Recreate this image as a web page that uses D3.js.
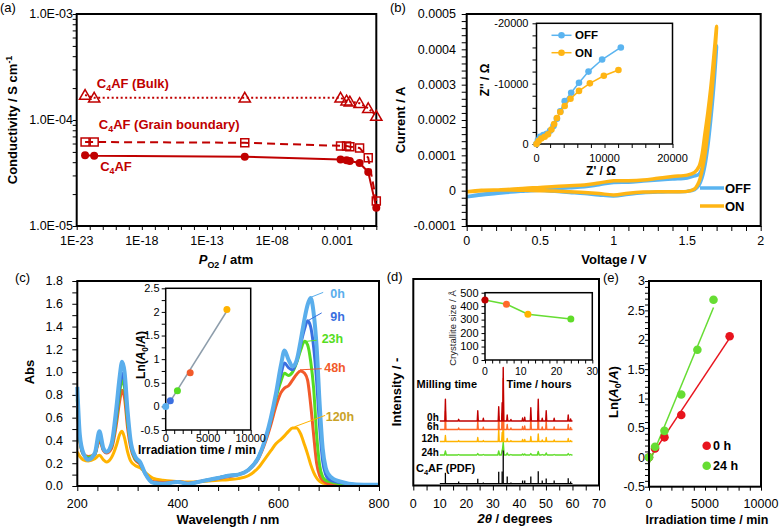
<!DOCTYPE html>
<html><head><meta charset="utf-8">
<script src="https://cdn.jsdelivr.net/npm/d3@7/dist/d3.min.js"></script>
<style>html,body{margin:0;padding:0;background:#fff;}svg{display:block;}</style>
</head><body>
<svg id="chart" width="781" height="528" font-family='"Liberation Sans", Arial, Helvetica, sans-serif'></svg>
<script>
// ===================== DATA =====================
// (a) conductivity vs PO2
const po2 = [4.4e-23, 2.2e-22, 8e-11, 1.8e-3, 5.2e-3, 9.3e-3, 5.2e-2, 0.24, 1.0];
const condBulk  = [1.72e-4, 1.62e-4, 1.62e-4, 1.62e-4, 1.52e-4, 1.49e-4, 1.44e-4, 1.29e-4, 1.09e-4];
const condGB    = [6.2e-5, 6.2e-5, 6.1e-5, 5.7e-5, 5.7e-5, 5.6e-5, 5.45e-5, 4.4e-5, 1.72e-5];
const condTotal = [4.66e-5, 4.6e-5, 4.5e-5, 4.24e-5, 4.17e-5, 4.1e-5, 3.93e-5, 3.23e-5, 1.49e-5];
const aXTicks = [1e-23, 1e-18, 1e-13, 1e-8, 1e-3];
const aXTickLabels = ['1E-23', '1E-18', '1E-13', '1E-08', '0.001'];
const aYTicks = [1e-5, 1e-4, 1e-3];
const aYTickLabels = ['1.0E-05', '1.0E-04', '1.0E-03'];
const aLabelNames = ['(Bulk)', '(Grain boundary)', ''];
const aLabelP = [3.5e-22, 5e-22, 6.3e-22];
const aLabelC = [2.02e-4, 8.3e-5, 3.33e-5];

// (b) cyclic voltammetry (current in µA) and impedance inset
const cvVolt   = [0, 0.1, 0.2, 0.3, 0.4, 0.5, 0.6, 0.7, 0.8, 0.9, 1.0, 1.1, 1.2, 1.3, 1.4, 1.5, 1.55, 1.58, 1.6, 1.62, 1.64, 1.66, 1.68, 1.7];
const cvOnFwd  = [-3, 0, 2, 4, 7, 9, 12, 14, 16, 22, 28, 28, 30, 35, 40, 44, 52, 68, 100, 160, 220, 290, 375, 465];
const cvOnRev  = [-3, 1, 2, 2, 1, 0, -1, -3, -5, -8, -12, -7, -4, -3, -3, -2, 5, 25, 55, 100, 165, 245, 340, 465];
const cvOffFwd = [-17, -12, -8, -4, -1, 2, 5, 8, 11, 17, 23, 24, 27, 30, 33, 36, 42, 46, 62, 100, 155, 230, 315, 410];
const cvOffRev = [-17, -10, -6, -3, -1, 1, -2, -5, -8, -12, -15, -10, -6, -4, -3, -2, 3, 15, 35, 70, 125, 200, 290, 410];
const bXTicks = [0, 0.5, 1, 1.5, 2];
const bYTicks = [-0.0001, 0, 0.0001, 0.0002, 0.0003, 0.0004, 0.0005];
const zReOff = [0, 200, 500, 1000, 1500, 2000, 2500, 3000, 3500, 4150, 5100, 6250, 7650, 9650, 12400];
const zImOff = [0, -600, -1200, -1500, -1700, -2200, -3000, -4200, -5400, -7100, -8500, -10150, -12000, -14000, -16000];
const zReOn  = [0, 300, 700, 1200, 1700, 2200, 2600, 3000, 3500, 4150, 5000, 6250, 7850, 9900, 12050];
const zImOn  = [0, -500, -900, -1200, -1600, -2400, -3300, -4300, -5300, -6300, -7500, -8800, -10050, -11300, -12250];

// (c) UV-vis spectra
const wl = [200, 205, 212, 222, 235, 244, 252, 258, 268, 278, 284, 289, 294, 300, 306, 315, 325, 335, 350, 370,
            400, 420, 450, 480, 500, 520, 540, 560, 575, 585, 595, 605, 612, 620, 628, 636, 644, 652, 658, 664,
            670, 676, 682, 688, 694, 700, 710, 722, 740, 770, 800];
const abs0h = [0.87, 0.45, 0.29, 0.23, 0.29, 0.48, 0.33, 0.30, 0.37, 0.70, 0.95, 1.09, 1.00, 0.66, 0.40, 0.26, 0.21, 0.11, 0.03, 0.02,
               0.035, 0.02, 0.045, 0.07, 0.09, 0.10, 0.14, 0.25, 0.43, 0.60, 0.81, 1.06, 1.19, 1.11, 1.05, 1.10, 1.27, 1.47, 1.59, 1.65,
               1.52, 1.22, 0.72, 0.33, 0.16, 0.10, 0.06, 0.04, 0.02, 0.01, 0.01];
const abs9h = [0.82, 0.42, 0.28, 0.24, 0.28, 0.45, 0.32, 0.30, 0.36, 0.63, 0.86, 0.99, 0.91, 0.61, 0.38, 0.25, 0.20, 0.11, 0.03, 0.02,
               0.035, 0.02, 0.045, 0.07, 0.09, 0.10, 0.14, 0.25, 0.42, 0.58, 0.79, 0.98, 1.08, 1.04, 1.02, 1.09, 1.24, 1.38, 1.45, 1.40,
               1.22, 0.92, 0.52, 0.22, 0.10, 0.06, 0.04, 0.03, 0.02, 0.01, 0.01];
const abs23h = [0.76, 0.41, 0.28, 0.25, 0.28, 0.43, 0.32, 0.30, 0.35, 0.60, 0.81, 0.93, 0.86, 0.57, 0.37, 0.24, 0.20, 0.11, 0.03, 0.02,
                0.035, 0.02, 0.045, 0.07, 0.09, 0.10, 0.14, 0.25, 0.42, 0.58, 0.77, 0.92, 0.99, 0.97, 1.00, 1.08, 1.19, 1.27, 1.24, 1.10,
                0.86, 0.45, 0.18, 0.08, 0.05, 0.04, 0.03, 0.02, 0.01, 0.01, 0.01];
const abs48h = [0.70, 0.40, 0.28, 0.26, 0.28, 0.40, 0.31, 0.29, 0.33, 0.55, 0.74, 0.84, 0.77, 0.51, 0.34, 0.23, 0.19, 0.11, 0.04, 0.03,
                0.04, 0.025, 0.045, 0.065, 0.08, 0.10, 0.14, 0.24, 0.40, 0.54, 0.70, 0.82, 0.86, 0.88, 0.93, 0.98, 1.01, 0.99, 0.93, 0.72,
                0.45, 0.20, 0.09, 0.05, 0.03, 0.02, 0.015, 0.01, 0.01, 0.005, 0.005];
const abs120h = [0.30, 0.26, 0.23, 0.22, 0.24, 0.27, 0.23, 0.21, 0.25, 0.36, 0.45, 0.48, 0.42, 0.30, 0.22, 0.18, 0.16, 0.12, 0.07, 0.05,
                 0.04, 0.035, 0.04, 0.05, 0.055, 0.065, 0.09, 0.16, 0.25, 0.31, 0.37, 0.41, 0.44, 0.48, 0.51, 0.51, 0.46, 0.36, 0.28, 0.19,
                 0.12, 0.07, 0.04, 0.025, 0.02, 0.015, 0.01, 0.01, 0.005, 0.005, 0.005];
const cNames = ['0h', '9h', '23h', '48h', '120h'];
const cColors = ['#5aaeec', '#3a6fe0', '#55dd22', '#f25a2a', '#ffb300'];
const cTextColors = ['#5aaeec', '#3a6fe0', '#55dd22', '#f25a2a', '#c9a227'];
const cLeadX0 = [666, 658, 655, 643, 632], cLeadY0 = [1.66, 1.45, 1.27, 1.02, 0.52];
const cLeadX1 = [689, 686, 676, 686, 693], cLeadY1 = [1.70, 1.52, 1.28, 1.03, 0.62];
const cLabX = [703, 703, 686, 691, 694], cLabY = [1.65, 1.45, 1.26, 1.00, 0.57];
const cXTicks = [200, 400, 600, 800];
const cYTicks = [0, 0.2, 0.4, 0.6, 0.8, 1.0, 1.2, 1.4, 1.6, 1.8];
// (c) inset: kinetics
const irrTime = [0, 540, 1380, 2880, 7200];
const lnRatio = [0, 0.12, 0.33, 0.71, 2.05];

// (d) XRD
const xrdPos = [12.1, 17.1, 24.3, 26.4, 32.2, 33.5, 33.9, 35.4, 36.8, 41.2, 42.0, 44.3, 47.1, 48.6, 50.1, 53.1, 58.4, 59.3];
const xrd0h  = [21.7, 1.7, 10.3, 2.7, 14.3, 18.3, 53.5, 6, 1.5, 3, 3.7, 13.3, 21.7, 2.7, 10.3, 2.7, 6, 2];
const xrd6h  = [18, 1.5, 8.5, 2.2, 13, 16, 51, 5, 1.5, 3, 3.5, 11.5, 18.5, 2.5, 8.5, 2.5, 5, 2];
const xrd12h = [6, 1, 4, 1, 12.5, 9, 30, 3, 1, 2, 2, 5, 7.5, 1.5, 4, 1.5, 3, 1];
const xrd24h = [4, 0.5, 1.5, 0.5, 4, 5, 13, 2, 0.5, 1, 1, 1.5, 3.5, 0.5, 2, 0.5, 1.5, 0.5];
const xrdPDF = [10.7, 2, 4.7, 1, 11.7, 12, 33, 7, 1, 3, 3, 7, 12.3, 3, 5, 3, 5.3, 2];
const xrdNames = ['0h', '6h', '12h', '24h'];
const xrdColors = ['#c00000', '#ff6a2a', '#ffb300', '#5fdc28'];
const xrdOffsets = [64.5, 56, 44, 30.5];
const dXTicks = [0, 10, 20, 30, 40, 50, 60, 70];
// (d) inset: crystallite size
const millHours = [0, 6, 12, 24];
const crystSize = [445, 415, 340, 305];

// (e) kinetics for two milling times
const eTime0h = [0, 540, 1380, 2880, 7200];
const eLn0h = [0, 0.15, 0.34, 0.72, 2.06];
const eTime24h = [0, 540, 1380, 2880, 4320, 5760];
const eLn24h = [0, 0.18, 0.45, 1.07, 1.83, 2.68];
const eYTicks = [-0.5, 0, 0.5, 1, 1.5, 2, 2.5, 3];
const eXTicks = [0, 5000, 10000];

// ===================== HELPERS =====================
const svg = d3.select('#chart');
const FS = 12.5, FSI = 11;

function frame(g, xs, ys, lw) {
  const [x0, x1] = xs.range(), [y0, y1] = ys.range();
  g.append('rect').attr('x', Math.min(x0, x1)).attr('y', Math.min(y0, y1))
    .attr('width', Math.abs(x1 - x0)).attr('height', Math.abs(y1 - y0))
    .attr('fill', 'none').attr('stroke', '#000').attr('stroke-width', lw);
}
function tickMarks(g, scale, side, vals, len, lw, pos) {
  const ax = (side === 'left' ? d3.axisLeft : d3.axisBottom)(scale).tickValues(vals).tickSize(len).tickFormat('');
  const t = g.append('g').attr('transform', side === 'left' ? `translate(${pos},0)` : `translate(0,${pos})`).call(ax);
  t.select('.domain').remove();
  t.selectAll('line').attr('stroke', '#000').attr('stroke-width', lw);
}
function tickLabels(g, scale, side, vals, pos, fmt, fs) {
  g.append('g').selectAll('text').data(vals).join('text')
    .attr(side === 'left' ? 'y' : 'x', d => scale(d))
    .attr(side === 'left' ? 'x' : 'y', pos)
    .attr('dy', side === 'left' ? '0.35em' : null)
    .attr('text-anchor', side === 'left' ? 'end' : 'middle')
    .attr('font-size', fs).attr('fill', '#000')
    .text((d, i) => fmt(d, i));
}
function rich(g, x, y, parts, opt) {
  const fs = opt.fs;
  const t = g.append('text').attr('x', x).attr('y', y).attr('font-size', fs)
    .attr('font-weight', opt.bold ? 'bold' : 'normal').attr('fill', opt.fill || '#000')
    .attr('text-anchor', opt.anchor || 'start');
  if (opt.rot) t.attr('transform', `rotate(-90,${x},${y})`);
  let shift = 0;
  parts.forEach(p => {
    if (typeof p === 'string') p = { t: p };
    const target = p.sub ? fs * 0.28 : p.sup ? -fs * 0.38 : 0;
    const s = t.append('tspan').attr('dy', target - shift).text(p.t);
    shift = target;
    if (p.sub || p.sup) s.attr('font-size', fs * 0.68);
    if (p.it) s.attr('font-style', 'italic');
  });
  return t;
}
function linReg(xs, ys) {
  const mx = d3.mean(xs), my = d3.mean(ys);
  let sxy = 0, sxx = 0;
  xs.forEach((x, i) => { sxy += (x - mx) * (ys[i] - my); sxx += (x - mx) * (x - mx); });
  const b = sxy / sxx;
  return [my - b * mx, b];
}
const fmtPlain = d => String(+d.toFixed(6));

// ===================== PANEL (a) =====================
{
  const g = svg.append('g');
  const x = d3.scaleLog().domain([1e-23, 1]).range([76.7, 376.3]);
  const y = d3.scaleLog().domain([1e-5, 1e-3]).range([226, 14]);
  const red = '#c00000';
  const decX = d3.range(-23, 1).map(e => Math.pow(10, e));
  tickMarks(g, x, 'bottom', decX, 4, 1, 226);
  const minorY = [];
  [-5, -4].forEach(e => { for (let k = 1; k <= 9; k++) minorY.push(k * Math.pow(10, e)); });
  minorY.push(1e-3);
  tickMarks(g, y, 'left', minorY, 4, 1, 76.7);
  frame(g, x, y, 2);
  tickLabels(g, x, 'bottom', aXTicks, 245, (d, i) => aXTickLabels[i], FS);
  tickLabels(g, y, 'left', aYTicks, 73, (d, i) => aYTickLabels[i], FS);

  const mk = arr => d3.line().x((d, i) => x(po2[i])).y(d => y(d))(arr);
  g.append('path').attr('d', mk(condBulk)).attr('fill', 'none').attr('stroke', red).attr('stroke-width', 2).attr('stroke-dasharray', '2,2.5');
  g.append('path').attr('d', mk(condGB)).attr('fill', 'none').attr('stroke', red).attr('stroke-width', 2).attr('stroke-dasharray', '8,5');
  g.append('path').attr('d', mk(condTotal)).attr('fill', 'none').attr('stroke', red).attr('stroke-width', 2);
  g.append('g').selectAll('path').data(condBulk).join('path')
    .attr('transform', (d, i) => `translate(${x(po2[i])},${y(d) + 1})`)
    .attr('d', d3.symbol(d3.symbolTriangle, 55)()).attr('fill', 'none').attr('stroke', red).attr('stroke-width', 1.5);
  g.append('g').selectAll('path').data(condGB).join('path')
    .attr('transform', (d, i) => `translate(${x(po2[i])},${y(d)})`)
    .attr('d', d3.symbol(d3.symbolSquare, 64)()).attr('fill', 'none').attr('stroke', red).attr('stroke-width', 1.5);
  g.append('g').selectAll('circle').data(condTotal).join('circle')
    .attr('cx', (d, i) => x(po2[i])).attr('cy', d => y(d)).attr('r', 4).attr('fill', red);
  aLabelNames.forEach((nm, i) => {
    const parts = ['C', { t: '4', sub: true }, 'AF'];
    if (nm) parts.push(' ' + nm);
    rich(g, x(aLabelP[i]), y(aLabelC[i]), parts, { fs: 13, bold: true, fill: red });
  });
  rich(g, 16.5, 120, ['Conductivity / S cm', { t: '-1', sup: true }], { fs: 13, bold: true, rot: true, anchor: 'middle' });
  rich(g, 226, 264, [{ t: 'P', it: true }, { t: 'O2', sub: true }, ' / atm'], { fs: 13, bold: true, anchor: 'middle' });
  g.append('text').attr('x', 0).attr('y', 11.5).attr('font-size', 13).text('(a)');
}

// ===================== PANEL (b) =====================
{
  const g = svg.append('g');
  const x = d3.scaleLinear().domain([0, 2]).range([466.7, 760.7]);
  const y = d3.scaleLinear().domain([-0.0001, 0.0005]).range([226, 14]);
  tickMarks(g, x, 'bottom', d3.range(0, 2.001, 0.1), 5, 1, 226);
  tickMarks(g, y, 'left', d3.range(-0.0001, 0.000501, 0.00002), 5, 1, 466.7);
  tickLabels(g, x, 'bottom', bXTicks, 245, d => fmtPlain(d), FS);
  tickLabels(g, y, 'left', bYTicks, 456, d => Math.abs(d) < 1e-12 ? '0' : d.toFixed(4), FS);

  const loop = (fwd, rev) => {
    const pts = cvVolt.map((v, i) => [v, fwd[i]]);
    for (let i = cvVolt.length - 2; i >= 0; i--) pts.push([cvVolt[i], rev[i]]);
    return d3.line().curve(d3.curveCatmullRom.alpha(0.5)).x(d => x(d[0])).y(d => y(d[1] * 1e-6))(pts);
  };
  const blue = '#5ab4f0', orange = '#ffb514';
  g.append('path').attr('d', loop(cvOffFwd, cvOffRev)).attr('fill', 'none').attr('stroke', blue).attr('stroke-width', 3.5);
  g.append('path').attr('d', loop(cvOnFwd, cvOnRev)).attr('fill', 'none').attr('stroke', orange).attr('stroke-width', 3.5);
  frame(g, x, y, 2);
  // legend
  [['OFF', blue, 188], ['ON', orange, 206]].forEach(([t, c, yy]) => {
    g.append('line').attr('x1', 700).attr('x2', 724).attr('y1', yy).attr('y2', yy).attr('stroke', c).attr('stroke-width', 3.5);
    g.append('text').attr('x', 725).attr('y', yy + 4.7).attr('font-size', 13).attr('font-weight', 'bold').text(t);
  });
  rich(g, 404.5, 120, ['Current / A'], { fs: 13, bold: true, rot: true, anchor: 'middle' });
  rich(g, 614, 264, ['Voltage / V'], { fs: 13, bold: true, anchor: 'middle' });
  g.append('text').attr('x', 390).attr('y', 11.5).attr('font-size', 13).text('(b)');

  // inset
  const xi = d3.scaleLinear().domain([0, 20000]).range([536.5, 672.5]);
  const yi = d3.scaleLinear().domain([0, -20000]).range([144, 23.3]);
  g.append('rect').attr('x', 536.5).attr('y', 23.3).attr('width', 136).attr('height', 120.7).attr('fill', '#fff');
  tickMarks(g, xi, 'bottom', d3.range(0, 20001, 2000), 4, 1, 144);
  tickMarks(g, yi, 'left', d3.range(0, -20001, -2000), 4, 1, 536.5);
  frame(g, xi, yi, 1.5);
  tickLabels(g, xi, 'bottom', [0, 10000, 20000], 161.5, d => String(d), FSI);
  tickLabels(g, yi, 'left', [0, -10000, -20000], 528.5, d => String(d), FSI);
  const zl = (re, im) => d3.line().x((d, i) => xi(re[i])).y(d => yi(d))(im);
  [[zReOff, zImOff, blue], [zReOn, zImOn, orange]].forEach(([re, im, c]) => {
    g.append('path').attr('d', zl(re, im)).attr('fill', 'none').attr('stroke', c).attr('stroke-width', 1.5);
    g.append('g').selectAll('circle').data(im).join('circle')
      .attr('cx', (d, i) => xi(re[i])).attr('cy', d => yi(d)).attr('r', 3.3).attr('fill', c);
  });
  [['OFF', blue, 35.3], ['ON', orange, 52.7]].forEach(([t, c, yy]) => {
    g.append('line').attr('x1', 551.5).attr('x2', 571.5).attr('y1', yy).attr('y2', yy).attr('stroke', c).attr('stroke-width', 1.5);
    g.append('circle').attr('cx', 561.5).attr('cy', yy).attr('r', 3.3).attr('fill', c);
    g.append('text').attr('x', 575).attr('y', yy + 4).attr('font-size', 11.5).attr('font-weight', 'bold').text(t);
  });
  rich(g, 488.5, 80, ["Z'' / Ω"], { fs: 12, bold: true, rot: true, anchor: 'middle' });
  rich(g, 601, 174.5, ["Z' / Ω"], { fs: 12, bold: true, anchor: 'middle' });
}

// ===================== PANEL (c) =====================
{
  const g = svg.append('g');
  const x = d3.scaleLinear().domain([200, 800]).range([77.3, 379]);
  const y = d3.scaleLinear().domain([0, 1.8]).range([486, 281]);
  tickMarks(g, x, 'bottom', d3.range(200, 801, 40), 5, 1, 486);
  tickMarks(g, y, 'left', d3.range(0, 1.801, 0.1), 5, 1, 77.3);
  tickLabels(g, x, 'bottom', cXTicks, 508, d => String(d), FS);
  tickLabels(g, y, 'left', cYTicks, 63, d => d.toFixed(1), FS);
  const series = [abs0h, abs9h, abs23h, abs48h, abs120h];
  const line = d3.line().curve(d3.curveMonotoneX).x((d, i) => x(wl[i])).y(d => y(d));
  for (let k = series.length - 1; k >= 0; k--) {
    g.append('path').attr('d', line(series[k])).attr('fill', 'none').attr('stroke', cColors[k])
      .attr('stroke-width', k === 0 ? 4 : 3).attr('stroke-linejoin', 'round');
  }
  frame(g, x, y, 2);
  cNames.forEach((nm, k) => {
    g.append('line').attr('x1', x(cLeadX0[k])).attr('y1', y(cLeadY0[k])).attr('x2', x(cLeadX1[k])).attr('y2', y(cLeadY1[k]))
      .attr('stroke', cColors[k]).attr('stroke-width', 1);
    g.append('text').attr('x', x(cLabX[k])).attr('y', y(cLabY[k])).attr('font-size', 12.5).attr('font-weight', 'bold')
      .attr('fill', cTextColors[k]).text(nm);
  });
  rich(g, 33.5, 372, ['Abs'], { fs: 13, bold: true, rot: true, anchor: 'middle' });
  rich(g, 228, 524, ['Wavelength / nm'], { fs: 13, bold: true, anchor: 'middle' });
  g.append('text').attr('x', 15).attr('y', 282).attr('font-size', 13).text('(c)');

  // inset
  const xi = d3.scaleLinear().domain([0, 10000]).range([165.7, 250.7]);
  const yi = d3.scaleLinear().domain([-0.5, 2.5]).range([430, 288.3]);
  g.append('rect').attr('x', 165.7).attr('y', 288.3).attr('width', 85).attr('height', 141.7).attr('fill', '#fff');
  tickMarks(g, xi, 'bottom', d3.range(0, 10001, 1000), 4, 1, 430);
  tickMarks(g, yi, 'left', d3.range(-0.5, 2.501, 0.25), 4, 1, 165.7);
  frame(g, xi, yi, 1.5);
  tickLabels(g, xi, 'bottom', [0, 5000, 10000], 442, d => String(d), FSI);
  tickLabels(g, yi, 'left', [-0.5, 0, 0.5, 1, 1.5, 2, 2.5], 159.5, d => fmtPlain(d), FSI);
  const [a0, b0] = linReg(irrTime, lnRatio);
  g.append('line').attr('x1', xi(0)).attr('y1', yi(a0)).attr('x2', xi(d3.max(irrTime))).attr('y2', yi(a0 + b0 * d3.max(irrTime)))
    .attr('stroke', '#8d9dab').attr('stroke-width', 1.5);
  g.append('g').selectAll('circle').data(lnRatio).join('circle')
    .attr('cx', (d, i) => xi(irrTime[i])).attr('cy', d => yi(d)).attr('r', 3.5).attr('fill', (d, i) => cColors[i]);
  rich(g, 145, 355, ['Ln(', { t: 'A', it: true }, { t: '0', sub: true }, '/', { t: 'A', it: true }, ')'], { fs: 12, bold: true, rot: true, anchor: 'middle' });
  rich(g, 197, 454, ['Irradiation time / min'], { fs: 12, bold: true, anchor: 'middle' });
}

// ===================== PANEL (d) =====================
{
  const g = svg.append('g');
  const x = d3.scaleLinear().domain([0, 70]).range([413.3, 599]);
  const y = d3.scaleLinear().domain([0, 206.5]).range([485.5, 279]);
  tickMarks(g, x, 'bottom', d3.range(0, 71, 5), 5, 1, 485.5);
  tickLabels(g, x, 'bottom', dXTicks, 508, d => String(d), FS);
  function tracePts(h, off, w) {
    const xs = [10, 60];
    xrdPos.forEach((p, i) => { if (h[i] > 0) xs.push(p - w, p, p + w); });
    xs.sort((a, b) => a - b);
    return xs.map(xx => {
      let v = 0;
      xrdPos.forEach((p, i) => { const t = h[i] * Math.max(0, 1 - Math.abs(xx - p) / w); if (t > v) v = t; });
      return [xx, v + off];
    });
  }
  const ln = d3.line().x(d => x(d[0])).y(d => y(d[1]));
  const traces = [xrd0h, xrd6h, xrd12h, xrd24h];
  for (let k = traces.length - 1; k >= 0; k--) {
    g.append('path').attr('d', ln(tracePts(traces[k], xrdOffsets[k], k === 3 ? 0.35 : 0.2)))
      .attr('fill', 'none').attr('stroke', xrdColors[k]).attr('stroke-width', 1.4).attr('stroke-linejoin', 'round');
  }
  // PDF sticks
  g.append('line').attr('x1', x(10)).attr('x2', x(60)).attr('y1', y(2)).attr('y2', y(2)).attr('stroke', '#000').attr('stroke-width', 1.2);
  g.append('g').selectAll('line').data(xrdPDF).join('line')
    .attr('x1', (d, i) => x(xrdPos[i])).attr('x2', (d, i) => x(xrdPos[i]))
    .attr('y1', y(2)).attr('y2', d => y(2 + d)).attr('stroke', '#000').attr('stroke-width', 1.3);
  frame(g, x, y, 2);
  xrdNames.forEach((nm, k) => {
    g.append('text').attr('x', x(9.6)).attr('y', y(xrdOffsets[k]) + (k === 0 ? -0.5 : 0.5)).attr('text-anchor', 'end')
      .attr('font-size', 10).attr('font-weight', 'bold').text(nm);
  });
  rich(g, 416.5, 388, ['Milling time'], { fs: 11, bold: true });
  rich(g, 416, 471.5, ['C', { t: '4', sub: true }, 'AF (PDF)'], { fs: 11, bold: true });
  rich(g, 401, 392, ['Intensity / -'], { fs: 13, bold: true, rot: true, anchor: 'middle' });
  rich(g, 515, 523, [{ t: '2θ', it: true }, ' / degrees'], { fs: 13, bold: true, anchor: 'middle' });
  g.append('text').attr('x', 386.7).attr('y', 281).attr('font-size', 13).text('(d)');

  // inset
  const xi = d3.scaleLinear().domain([0, 30]).range([485, 592.3]);
  const yi = d3.scaleLinear().domain([0, 500]).range([360, 292.7]);
  g.append('rect').attr('x', 485).attr('y', 292.7).attr('width', 107.3).attr('height', 67.3).attr('fill', '#fff');
  tickMarks(g, xi, 'bottom', d3.range(0, 31, 2), 3.5, 1, 360);
  tickMarks(g, yi, 'left', d3.range(0, 501, 50), 3.5, 1, 485);
  frame(g, xi, yi, 1.5);
  tickLabels(g, xi, 'bottom', [0, 10, 20, 30], 374.5, d => String(d), 10.5);
  tickLabels(g, yi, 'left', [0, 100, 200, 300, 400, 500], 478.5, d => String(d), FSI);
  g.append('path').attr('d', d3.line().x((d, i) => xi(millHours[i])).y(d => yi(d))(crystSize))
    .attr('fill', 'none').attr('stroke', '#66dd33').attr('stroke-width', 1.5);
  g.append('g').selectAll('circle').data(crystSize).join('circle')
    .attr('cx', (d, i) => xi(millHours[i])).attr('cy', d => yi(d)).attr('r', 3.5).attr('fill', (d, i) => xrdColors[i]);
  rich(g, 456, 328, ['Crystallite size  / Å'], { fs: 9.5, rot: true, anchor: 'middle', fill: '#222' });
  rich(g, 539, 387.5, ['Time / hours'], { fs: 11, bold: true, anchor: 'middle' });
}

// ===================== PANEL (e) =====================
{
  const g = svg.append('g');
  const x = d3.scaleLinear().domain([0, 10000]).range([649, 761]);
  const y = d3.scaleLinear().domain([-0.5, 3]).range([486.7, 281]);
  tickMarks(g, x, 'bottom', d3.range(0, 10001, 1000), 4, 1, 486.7);
  tickMarks(g, y, 'left', d3.range(-0.5, 3.001, 0.1), 4, 1, 649);
  tickLabels(g, x, 'bottom', eXTicks, 508, d => String(d), FS);
  tickLabels(g, y, 'left', eYTicks, 645, d => fmtPlain(d), FS);
  const red = '#e8141e', green = '#66dd33';
  [[eTime0h, eLn0h, red], [eTime24h, eLn24h, green]].forEach(([ts, ls, c]) => {
    const [a, b] = linReg(ts, ls);
    const xm = d3.max(ts);
    g.append('line').attr('x1', x(0)).attr('y1', y(a)).attr('x2', x(xm)).attr('y2', y(a + b * xm)).attr('stroke', c).attr('stroke-width', 1.5);
  });
  [[eTime0h, eLn0h, red], [eTime24h, eLn24h, green]].forEach(([ts, ls, c]) => {
    g.append('g').selectAll('circle').data(ls).join('circle')
      .attr('cx', (d, i) => x(ts[i])).attr('cy', d => y(d)).attr('r', 4.3).attr('fill', c);
  });
  frame(g, x, y, 2);
  [['0 h', red, 445.7], ['24 h', green, 465.7]].forEach(([t, c, yy]) => {
    g.append('circle').attr('cx', 706.7).attr('cy', yy).attr('r', 4.3).attr('fill', c);
    g.append('text').attr('x', 713).attr('y', yy + 4.5).attr('font-size', 12.5).attr('font-weight', 'bold').text(t);
  });
  rich(g, 617.5, 392, ['Ln(', { t: 'A', it: true }, { t: '0', sub: true }, '/', { t: 'A', it: true }, ')'], { fs: 13, bold: true, rot: true, anchor: 'middle' });
  rich(g, 707, 524, ['Irradiation time / min'], { fs: 12.5, bold: true, anchor: 'middle' });
  g.append('text').attr('x', 603).attr('y', 282).attr('font-size', 13).text('(e)');
}
</script>
</body></html>
